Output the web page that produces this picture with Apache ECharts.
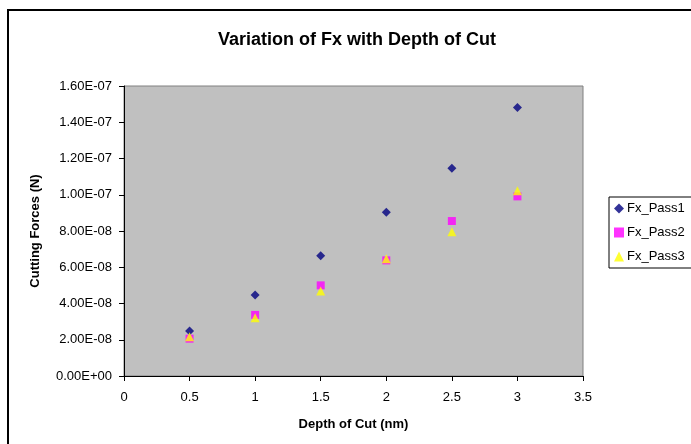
<!DOCTYPE html>
<html><head><meta charset="utf-8">
<script src="https://cdn.jsdelivr.net/npm/echarts@6/dist/echarts.min.js"></script>
<style>html,body{margin:0;padding:0;background:#fff}#c{width:691px;height:444px}</style>
</head><body><div id="c"></div>
<script>
const depth = [0.5, 1.0, 1.5, 2.0, 2.5, 3.0];
const fxPass1 = [2.48e-8, 4.47e-8, 6.64e-8, 9.03e-8, 11.46e-8, 14.82e-8];
const fxPass2 = [2.06e-8, 3.37e-8, 5.00e-8, 6.38e-8, 8.55e-8, 9.91e-8];
const fxPass3 = [2.17e-8, 3.22e-8, 4.69e-8, 6.47e-8, 7.96e-8, 10.22e-8];
const seriesNames = ['Fx_Pass1', 'Fx_Pass2', 'Fx_Pass3'];

function fmtE(v) {
  if (v === 0) return '0.00E+00';
  let s = v.toExponential(2);
  let [m, e] = s.split('e');
  let sign = e[0] === '-' ? '-' : '+';
  let d = e.replace(/^[+-]/, '');
  if (d.length < 2) d = '0' + d;
  return m + 'E' + sign + d;
}
const font = 'Liberation Sans, Arial, sans-serif';
const chart = echarts.init(document.getElementById('c'));
const pair = (xs, ys) => xs.map((x, i) => [x, ys[i]]);
chart.setOption({
  animation: false,
  textStyle: { fontFamily: font },
  graphic: [{ type: 'rect', shape: { x: 8, y: 10, width: 720, height: 460 }, style: { fill: 'none', stroke: '#000', lineWidth: 2 }, z: -1 }],
  title: { text: 'Variation of Fx with Depth of Cut', left: 352, textAlign: 'center', top: 26,
    textStyle: { fontFamily: font, fontSize: 18, fontWeight: 'bold', color: '#000' } },
  grid: { left: 124, top: 86, right: 108, bottom: 68, show: true, backgroundColor: '#C0C0C0', borderColor: '#808080', borderWidth: 1 },
  legend: {
    orient: 'vertical', left: 609, top: 197, itemGap: 9, itemWidth: 10, itemHeight: 10,
    padding: [4, 20, 4, 5], borderColor: '#000', borderWidth: 1, backgroundColor: '#fff',
    textStyle: { fontFamily: font, fontSize: 13, color: '#000', padding: [0, 0, 0, -2], lineHeight: 15 },
    data: seriesNames
  },
  xAxis: {
    type: 'value', min: 0, max: 3.5, interval: 0.5,
    name: 'Depth of Cut (nm)', nameLocation: 'middle', nameGap: 42,
    nameTextStyle: { fontFamily: font, fontSize: 13, fontWeight: 'bold', color: '#000' },
    axisLine: { lineStyle: { color: '#000', width: 1 } },
    axisTick: { show: true, length: 5, inside: false, lineStyle: { color: '#000' } },
    axisLabel: { fontFamily: font, fontSize: 13, color: '#000', margin: 15 },
    splitLine: { show: false }
  },
  yAxis: {
    type: 'value', min: 0, max: 1.6e-7, interval: 2e-8,
    name: 'Cutting Forces (N)', nameLocation: 'middle', nameGap: 82,
    nameTextStyle: { fontFamily: font, fontSize: 13, fontWeight: 'bold', color: '#000' },
    axisLine: { show: true, lineStyle: { color: '#000', width: 1 } },
    axisTick: { show: true, length: 5, lineStyle: { color: '#000' } },
    axisLabel: { fontFamily: font, fontSize: 13, color: '#000', margin: 12, formatter: fmtE },
    splitLine: { show: false }
  },
  series: [
    { name: seriesNames[0], type: 'scatter', data: pair(depth, fxPass1), symbol: 'diamond', symbolSize: 9, itemStyle: { color: '#000080' } },
    { name: seriesNames[1], type: 'scatter', data: pair(depth, fxPass2), symbol: 'rect', symbolSize: 8, itemStyle: { color: '#FF00FF' } },
    { name: seriesNames[2], type: 'scatter', data: pair(depth, fxPass3), symbol: 'triangle', symbolSize: 9, itemStyle: { color: '#FFFF00' } }
  ]
});
</script></body></html>
